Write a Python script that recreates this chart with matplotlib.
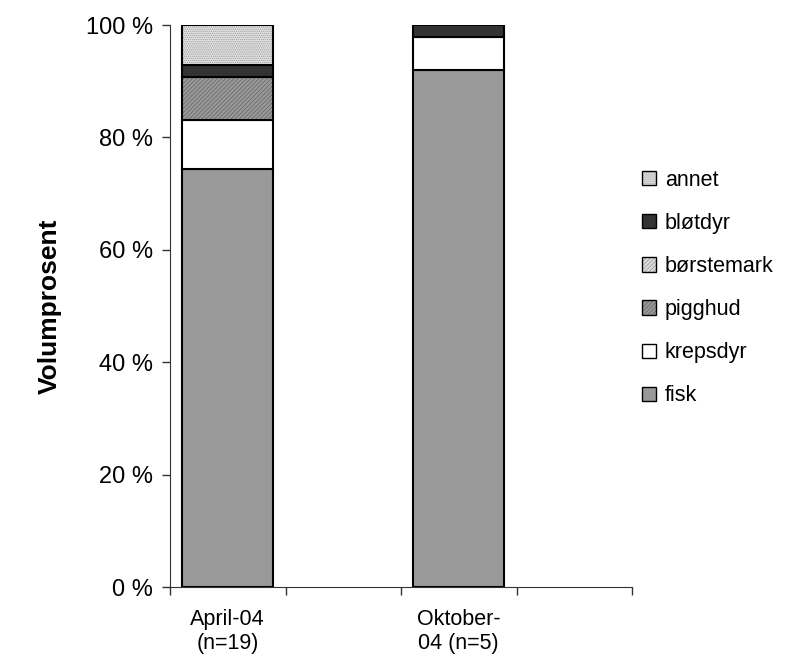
import matplotlib
matplotlib.use("Agg")
import matplotlib.pyplot as plt
from matplotlib.patches import Patch
import numpy as np

plt.rcParams['font.family'] = ['Liberation Sans', 'DejaVu Sans']
plt.rcParams['hatch.linewidth'] = 0.6

categories = ["April-04\n(n=19)", "", "Oktober-\n04 (n=5)", ""]
series_names = ["fisk", "krepsdyr", "pigghud", "børstemark", "bløtdyr", "annet"]
fisk = [74.3, np.nan, 92.0, np.nan]
krepsdyr = [8.8, np.nan, 5.8, np.nan]
pigghud = [7.6, np.nan, 0.0, np.nan]
borstemark = [0.0, np.nan, 0.0, np.nan]
blotdyr = [2.2, np.nan, 2.2, np.nan]
annet = [7.1, np.nan, 0.0, np.nan]
yticks = [0, 20, 40, 60, 80, 100]
ytick_labels = ["0 %", "20 %", "40 %", "60 %", "80 %", "100 %"]

values = [fisk, krepsdyr, pigghud, borstemark, blotdyr, annet]
styles = [
    dict(facecolor="#999999", hatch=None, hcolor="black"),
    dict(facecolor="#ffffff", hatch=None, hcolor="black"),
    dict(facecolor="#9a9a9a", hatch="////////", hcolor="#6a6a6a"),
    dict(facecolor="#dddddd", hatch="////////", hcolor="#a0a0a0"),
    dict(facecolor="#333333", hatch=None, hcolor="black"),
    dict(facecolor="#e2e2e2", hatch="........", hcolor="#9a9a9a"),
]

fig = plt.figure(figsize=(7.97, 6.59), dpi=100)
ax = fig.add_axes([170/797, 1-587/659, (632-170)/797, (587-25)/659])

x = np.arange(len(categories)) + 0.5
bottom = np.zeros(len(categories))
handles = []
for name, vals, st in zip(series_names, values, styles):
    v = np.array(vals, dtype=float)
    mask = ~np.isnan(v)
    bars = ax.bar(x[mask], v[mask], width=0.79, bottom=bottom[mask],
                  facecolor=st["facecolor"], edgecolor="black", linewidth=1.5,
                  hatch=st["hatch"])
    for b in bars:
        b._hatch_color = matplotlib.colors.to_rgba(st["hcolor"])
        if b.get_height() == 0:
            b.set_visible(False)
    bottom[mask] += v[mask]
    h = Patch(facecolor=st["facecolor"], edgecolor="black", linewidth=1.0,
              hatch=st["hatch"], label=name)
    h._hatch_color = matplotlib.colors.to_rgba(st["hcolor"])
    handles.append(h)

ax.set_xlim(0, 4)
ax.set_ylim(0, 100)
ax.set_yticks(yticks)
ax.set_yticklabels(ytick_labels, fontsize=17)
ax.set_xticks([0, 1, 2, 3, 4])
ax.set_xticklabels([])
ax.set_xticks(x, minor=True)
ax.set_xticklabels(categories, minor=True, fontsize=15.5, linespacing=1.2)
ax.tick_params(axis="x", which="minor", length=0, pad=16)
ax.tick_params(axis="x", which="major", direction="out", length=6, width=1, color="#333333")
ax.tick_params(axis="y", direction="out", length=6, width=1, pad=6, color="#333333")
for s in ["top", "right"]:
    ax.spines[s].set_visible(False)
ax.spines["left"].set_color("#333333")
ax.spines["bottom"].set_color("#333333")

ax.set_ylabel("Volumprosent", fontsize=19, fontweight="bold")
ax.yaxis.set_label_coords(-0.235, 0.50)

leg = ax.legend(handles[::-1], series_names[::-1], loc="center left",
                bbox_to_anchor=(1.008, 0.532), frameon=False, fontsize=15.5,
                handlelength=0.65, handleheight=0.65, handletextpad=0.4,
                labelspacing=1.03, borderaxespad=0.0, borderpad=0.3)

fig.savefig("out.png", dpi=100)
